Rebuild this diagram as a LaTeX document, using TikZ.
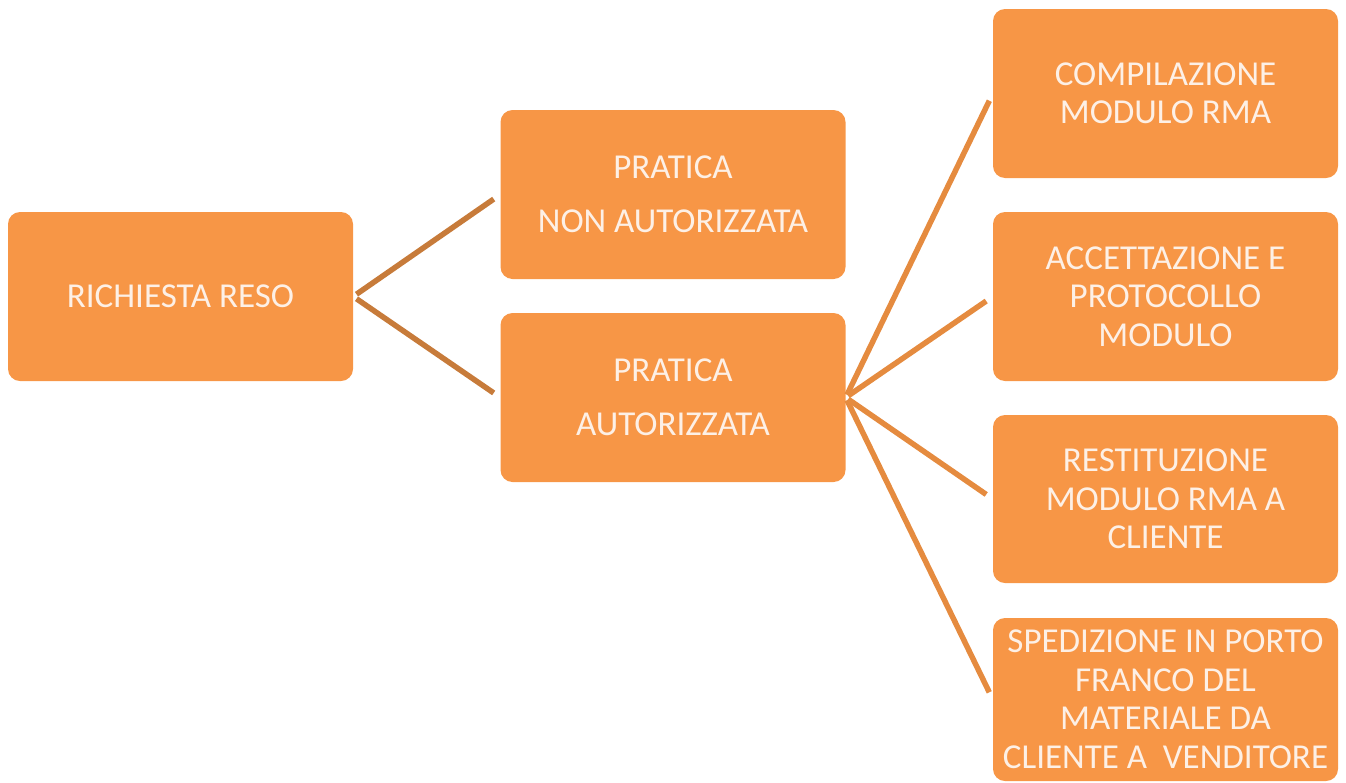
\documentclass[tikz,border=0pt]{standalone}
\usepackage{fontspec}
\setmainfont{Carlito}
\definecolor{boxfill}{HTML}{F79646}
\definecolor{boxtext}{HTML}{FDF0E6}
\definecolor{linkA}{HTML}{C77B3A}
\definecolor{linkB}{HTML}{E58B3F}
\begin{document}
\begin{tikzpicture}[x=1pt,y=-1pt,
  box/.style={fill=boxfill,rounded corners=12pt,minimum width=345pt,inner sep=0pt,
    text=boxtext,align=center,font=\fontsize{35}{38.5}\selectfont},
  linka/.style={draw=linkA,line width=5.5pt,shorten <=4pt,shorten >=8pt},
  linkb/.style={draw=linkB,line width=5.5pt,shorten <=3pt,shorten >=8pt}]
\useasboundingbox (0,0) rectangle (1346,782);
\node[box,minimum height=169pt] (r) at (180.5,296.5) {RICHIESTA RESO};
\node[box,minimum height=169pt,font=\fontsize{35}{54}\selectfont] (n) at (673,194.5) {PRATICA\\NON AUTORIZZATA};
\node[box,minimum height=169pt,font=\fontsize{35}{54}\selectfont] (a) at (673,397.5) {PRATICA\\AUTORIZZATA};
\node[box,minimum height=169pt] (c1) at (1165.5,93.5) {COMPILAZIONE\\MODULO RMA};
\node[box,minimum height=169pt] (c2) at (1165.5,296.5) {ACCETTAZIONE E\\PROTOCOLLO\\MODULO};
\node[box,minimum height=168pt] (c3) at (1165.5,499) {RESTITUZIONE\\MODULO RMA A\\CLIENTE};
\node[box,minimum height=163pt] (c4) at (1165.5,699.5) {SPEDIZIONE IN PORTO\\FRANCO DEL\\MATERIALE DA\\CLIENTE A\ \ VENDITORE};
\draw[linka] (r.east) -- (n.west);
\draw[linka] (r.east) -- (a.west);
\draw[linkb] (a.east) -- (c1.west);
\draw[linkb] (a.east) -- (c2.west);
\draw[linkb] (a.east) -- (c3.west);
\draw[linkb] (a.east) -- (c4.west);
\end{tikzpicture}
\end{document}
